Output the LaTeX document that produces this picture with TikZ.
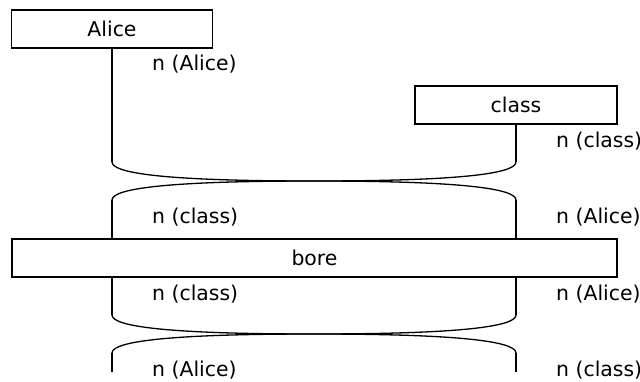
\documentclass[tikz,border=0pt]{standalone}
\usepackage{fontspec}
\setmainfont{DejaVu Sans}
\usetikzlibrary{positioning}

\begin{document}
\begin{tikzpicture}[
    x=1pt, y=-1pt,
    % Define styles
    box/.style={rectangle, draw=black, line width=1.3pt, minimum height=38pt, inner sep=0pt, text centered, font=\fontsize{20.4}{24}\selectfont},
    wire/.style={draw=black, line width=1.3pt},
    typelabel/.style={anchor=west, inner sep=0pt, font=\fontsize{20.4}{24}\selectfont}
]
\useasboundingbox (0,0) rectangle (640,381);

% Boxes
\node[box, minimum width=201pt] (alice) at (112,29) {Alice};
\node[box, minimum width=202pt] (class) at (516,105) {class};
\node[box, minimum width=605pt] (bore) at (314.5,258) {bore};

% Swap end points
\coordinate (swapAtl) at (112,162);
\coordinate (swapAtr) at (516,162);
\coordinate (swapAmid) at (314,181);
\coordinate (swapAbl) at (112,200);
\coordinate (swapAbr) at (516,200);
\coordinate (swapBtl) at (112,315);
\coordinate (swapBtr) at (516,315);
\coordinate (swapBmid) at (314,334);
\coordinate (swapBbl) at (112,353);
\coordinate (swapBbr) at (516,353);
\coordinate (outl) at (112,372);
\coordinate (outr) at (516,372);

% Wires into the first swap
\draw[wire] (alice.south) -- (swapAtl);
\draw[wire] (class.south) -- (swapAtr);

% First swap
\draw[wire] (swapAtl) .. controls +(0,12.7) and +(-134.7,0) .. (swapAmid)
                      .. controls +(134.7,0) and +(0,-12.7) .. (swapAbr);
\draw[wire] (swapAtr) .. controls +(0,12.7) and +(134.7,0) .. (swapAmid)
                      .. controls +(-134.7,0) and +(0,-12.7) .. (swapAbl);

% Wires into bore
\draw[wire] (swapAbl) -- (swapAbl |- bore.north);
\draw[wire] (swapAbr) -- (swapAbr |- bore.north);

% Wires out of bore
\draw[wire] (swapBtl |- bore.south) -- (swapBtl);
\draw[wire] (swapBtr |- bore.south) -- (swapBtr);

% Second swap
\draw[wire] (swapBtl) .. controls +(0,12.7) and +(-134.7,0) .. (swapBmid)
                      .. controls +(134.7,0) and +(0,-12.7) .. (swapBbr);
\draw[wire] (swapBtr) .. controls +(0,12.7) and +(134.7,0) .. (swapBmid)
                      .. controls +(-134.7,0) and +(0,-12.7) .. (swapBbl);

% Open outputs
\draw[wire] (swapBbl) -- (outl);
\draw[wire] (swapBbr) -- (outr);

% Labels
\node[typelabel] (lblA) at (152,64) {n (Alice)};
\node[typelabel] (lblB) at (556,141) {n (class)};
\node[typelabel] (lblC) at (152,217) {n (class)};
\node[typelabel] (lblD) at (556,217) {n (Alice)};
\node[typelabel] (lblE) at (152,294) {n (class)};
\node[typelabel] (lblF) at (556,294) {n (Alice)};
\node[typelabel] (lblG) at (152,370) {n (Alice)};
\node[typelabel] (lblH) at (556,370) {n (class)};

\end{tikzpicture}
\end{document}
